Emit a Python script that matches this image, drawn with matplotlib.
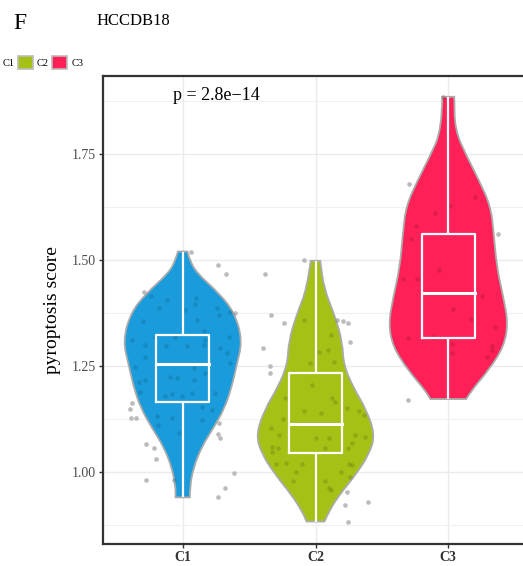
import matplotlib.pyplot as plt
from matplotlib.path import Path
from matplotlib.patches import PathPatch, Rectangle
import numpy as np

plt.rcParams['font.family'] = ['Liberation Serif', 'DejaVu Serif']

groups = ["C1", "C2", "C3"]
colors = ["#1A9CDC", "#A5C116", "#FF2057"]

# violin outlines: score level -> relative half width (1 = widest)
c1_levels = [0.94, 0.965, 1.01, 1.06, 1.105, 1.15, 1.20, 1.25, 1.31, 1.375, 1.42, 1.47, 1.50, 1.52]
c1_width = [0.12, 0.12, 0.18, 0.32, 0.52, 0.70, 0.82, 0.90, 1.00, 0.87, 0.62, 0.23, 0.12, 0.08]
c2_levels = [0.883, 0.906, 0.946, 0.993, 1.04, 1.087, 1.15, 1.197, 1.252, 1.307, 1.37, 1.433, 1.498]
c2_width = [0.15, 0.22, 0.40, 0.67, 0.89, 1.00, 0.84, 0.64, 0.47, 0.45, 0.32, 0.14, 0.08]
c3_levels = [1.172, 1.193, 1.241, 1.296, 1.351, 1.413, 1.484, 1.563, 1.626, 1.689, 1.744, 1.807, 1.885]
c3_width = [0.30, 0.39, 0.68, 0.93, 1.00, 0.92, 0.81, 0.76, 0.71, 0.51, 0.31, 0.11, 0.10]

# box summaries: min, q1, median, q3, max
c1_box = [0.94, 1.165, 1.255, 1.323, 1.52]
c2_box = [0.883, 1.045, 1.113, 1.233, 1.498]
c3_box = [1.172, 1.316, 1.422, 1.561, 1.885]

# individual samples (score) with their horizontal jitter
c1_scores = [1.520, 1.487, 1.467, 1.424, 1.414, 1.378, 1.376, 1.162, 1.148, 1.127, 1.127,
             1.115, 1.089, 1.079, 1.066, 1.056, 1.031, 0.997, 0.980, 0.962, 0.940,
             1.406, 1.386, 1.410, 1.396, 1.382, 1.355, 1.358, 1.333, 1.370, 1.386,
             1.311, 1.300, 1.319, 1.318, 1.296, 1.296, 1.300, 1.311, 1.292, 1.319,
             1.280, 1.272, 1.256, 1.248, 1.213, 1.217, 1.225, 1.221, 1.245, 1.217,
             1.233, 1.186, 1.186, 1.184, 1.178, 1.178, 1.189, 1.131, 1.111, 1.127,
             1.154, 1.123, 1.093, 1.146, 0.981]
c1_jitter = [0.065, 0.263, 0.329, -0.293, -0.235, 0.354, 0.391, -0.380, -0.393, -0.386, -0.348,
             0.271, 0.266, 0.283, -0.275, -0.218, -0.200, 0.384, -0.275, 0.316, 0.266,
             -0.118, -0.180, 0.100, 0.095, 0.020, -0.300, 0.108, 0.158, 0.271, 0.258,
             -0.381, -0.281, -0.206, -0.055, 0.033, -0.125, 0.158, 0.170, 0.283, 0.346,
             0.333, -0.286, 0.358, -0.361, -0.331, -0.281, -0.093, -0.043, 0.083, 0.083,
             0.170, 0.246, 0.070, -0.080, -0.005, -0.130, -0.318, -0.193, -0.185, -0.080,
             0.145, 0.145, -0.030, 0.221, -0.068]

c2_scores = [1.500, 1.467, 1.370, 1.351, 1.358, 1.357, 1.351, 1.307, 1.292, 1.250, 1.233,
             0.952, 0.922, 0.928, 0.883,
             1.358, 1.323, 1.282, 1.288, 1.259, 1.256, 1.204, 1.174, 1.166, 1.174,
             1.144, 1.138, 1.152, 1.144, 1.134, 1.125, 1.103, 1.086, 1.081, 1.081,
             1.087, 1.083, 1.068, 1.056, 1.057, 1.057, 1.060, 1.046, 1.020, 1.018,
             1.018, 1.018, 1.017, 1.001, 1.001, 0.989, 0.979, 0.979, 0.961, 0.958]
c2_jitter = [-0.088, -0.383, -0.333, -0.238, 0.163, 0.206, 0.246, 0.263, -0.396, -0.343, -0.343,
             0.238, 0.221, 0.393, 0.248,
             -0.088, 0.120, 0.025, 0.095, 0.138, -0.038, -0.025, 0.125, 0.150, -0.231,
             -0.088, 0.045, 0.238, 0.326, 0.363, -0.246, -0.338, -0.276, 0.000, 0.100,
             0.301, 0.371, 0.276, 0.246, 0.070, -0.281, -0.331, -0.331, -0.221, -0.105,
             -0.296, 0.251, 0.276, -0.145, 0.195, 0.263, -0.170, 0.070, 0.100, 0.113]

c3_scores = [1.885, 1.679, 1.561, 1.170, 1.648, 1.627, 1.612, 1.581, 1.550, 1.476, 1.455,
             1.455, 1.414, 1.385, 1.360, 1.343, 1.315, 1.319, 1.302, 1.296, 1.288, 1.281, 1.270]
c3_jitter = [-0.038, -0.293, 0.376, -0.301, 0.200, 0.013, -0.100, -0.243, -0.283, -0.068, -0.343,
             -0.238, 0.251, 0.033, 0.168, 0.351, -0.301, -0.118, 0.025, 0.326, 0.326, 0.025, 0.288]

levels = [c1_levels, c2_levels, c3_levels]
widths = [c1_width, c2_width, c3_width]
boxes = [c1_box, c2_box, c3_box]
scores = [c1_scores, c2_scores, c3_scores]
jitters = [c1_jitter, c2_jitter, c3_jitter]


def smooth_side(xs, ys):
    # quadratic Bezier segments through the midpoints of the outline
    verts = [(xs[0], ys[0])]
    codes = [Path.LINETO]
    for k in range(1, len(xs) - 1):
        mx = (xs[k] + xs[k + 1]) / 2
        my = (ys[k] + ys[k + 1]) / 2
        verts += [(xs[k], ys[k]), (mx, my)]
        codes += [Path.CURVE3, Path.CURVE3]
    verts.append((xs[-1], ys[-1]))
    codes.append(Path.LINETO)
    return verts, codes


def violin_path(pos, lv, w):
    half = 0.45 * np.array(w)
    lv = np.array(lv)
    rv, rc = smooth_side(pos + half, lv)
    lvv, lc = smooth_side((pos - half)[::-1], lv[::-1])
    verts = rv + lvv + [rv[0]]
    codes = rc + lc + [Path.CLOSEPOLY]
    codes[0] = Path.MOVETO
    return Path(verts, codes)


fig = plt.figure(figsize=(5.23, 5.66), dpi=100)
ax = fig.add_axes([103 / 523, 22 / 566, 425 / 523, 468 / 566])

for i in range(3):
    pos = i + 1
    xs = pos + np.array(jitters[i])
    # light grey dots under the violin, faint shade on top so they show through the fill
    ax.scatter(xs, scores[i], s=11, color="#D6D6D6", linewidths=0, zorder=2)
    path = violin_path(pos, levels[i], widths[i])
    ax.add_patch(PathPatch(path, facecolor=colors[i], edgecolor="none", zorder=3))
    ax.add_patch(PathPatch(path, facecolor="none", edgecolor="#AAAAAA", linewidth=1.3,
                           zorder=3.5))
    ax.scatter(xs, scores[i], s=11, color="black", alpha=0.12, linewidths=0, zorder=3.6)
    lo, q1, med, q3, hi = boxes[i]
    bw = 0.2
    ax.plot([pos, pos], [lo, q1], color="white", lw=1.6, zorder=4, solid_capstyle="butt")
    ax.plot([pos, pos], [q3, hi], color="white", lw=1.6, zorder=4, solid_capstyle="butt")
    ax.plot([pos - bw, pos + bw, pos + bw, pos - bw, pos - bw],
            [q1, q1, q3, q3, q1], color="white", lw=1.6, zorder=4)
    ax.plot([pos - bw, pos + bw], [med, med], color="white", lw=2.2, zorder=4)

ax.set_xlim(0.4, 3.6)
ax.set_ylim(0.830, 1.934)
ax.set_xticks([1, 2, 3])
ax.set_xticklabels(groups, fontsize=10, fontweight="bold", color="#333333")
ax.set_yticks([1.00, 1.25, 1.50, 1.75])
ax.set_yticklabels(["1.00", "1.25", "1.50", "1.75"], fontsize=10, color="#4D4D4D")
ax.set_yticks([0.875, 1.125, 1.375, 1.625, 1.875], minor=True)
ax.tick_params(axis="y", which="minor", length=0)
ax.tick_params(axis="both", which="major", length=3, width=1, color="#333333", pad=2)
ax.grid(True, which="major", color="#EBEBEB", linewidth=1.0, zorder=0)
ax.grid(True, which="minor", axis="y", color="#F0F0F0", linewidth=0.8, zorder=0)
ax.set_axisbelow(True)
for s in ax.spines.values():
    s.set_linewidth(1.6)
    s.set_color("#333333")
ax.set_ylabel("pyroptosis score", fontsize=14, labelpad=8)

ax.text(0.926, 1.877, "p = 2.8e\u221214", fontsize=13, va="baseline", ha="left")

fig.text(20 / 523, 1 - 29 / 566, "F", fontsize=17, ha="center", va="baseline")
fig.text(97 / 523, 1 - 25 / 566, "HCCDB18", fontsize=12, ha="left", va="baseline")

# legend row
fig.text(3 / 523, 1 - 66 / 566, "C1", fontsize=7.5, va="baseline")
fig.text(37 / 523, 1 - 66 / 566, "C2", fontsize=7.5, va="baseline")
fig.text(72 / 523, 1 - 66 / 566, "C3", fontsize=7.5, va="baseline")
for x0, c in [(18, colors[1]), (52, colors[2])]:
    fig.patches.append(Rectangle((x0 / 523, 1 - 69 / 566), 15 / 523, 13 / 566,
                                 transform=fig.transFigure, facecolor=c,
                                 edgecolor="#BBBBBB", linewidth=1.2))

fig.savefig("out.png", dpi=100)
